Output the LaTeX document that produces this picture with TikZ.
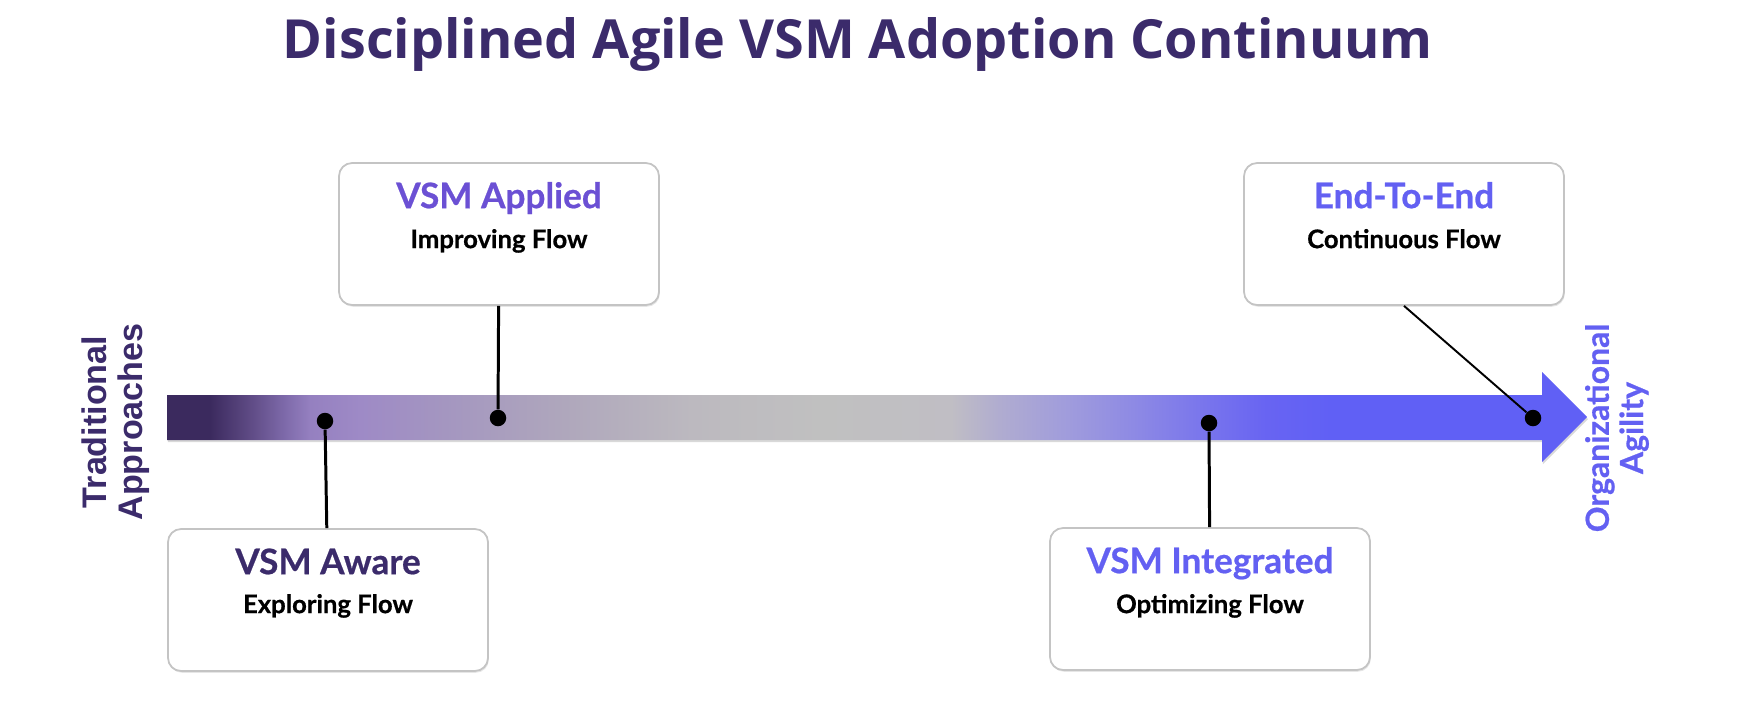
\documentclass[tikz,border=0pt]{standalone}
\usepackage{fontspec}
\setmainfont{Lato}[BoldFeatures={FakeBold=0.6}]
\newfontfamily\headfont{Open Sans}
\newfontfamily\sidefont{Liberation Sans}
\usetikzlibrary{positioning,calc,shadows}

\definecolor{darkplum}{HTML}{3B2B6B}
\definecolor{midplum}{HTML}{6B50D4}
\definecolor{brightplum}{HTML}{6360F2}
\definecolor{boxline}{HTML}{C4C4C4}

% colour stops of the flow arrow
\definecolor{fa}{HTML}{3B2A5E}
\definecolor{fb}{HTML}{5E4A84}
\definecolor{fc}{HTML}{7E6AAA}
\definecolor{fd}{HTML}{9580C0}
\definecolor{fe}{HTML}{9E8AC6}
\definecolor{ff}{HTML}{A496C0}
\definecolor{fg}{HTML}{AFA7BC}
\definecolor{fh}{HTML}{BCB9BF}
\definecolor{fi}{HTML}{C0C0C0}
\definecolor{fj}{HTML}{C0BEC4}
\definecolor{fk}{HTML}{B0ACD0}
\definecolor{fl}{HTML}{A09CDC}
\definecolor{fm}{HTML}{8E8AE4}
\definecolor{fn}{HTML}{7A76EC}
\definecolor{fo}{HTML}{6864F2}
\definecolor{fp}{HTML}{6060F5}

\pgfdeclarehorizontalshading{flowshade}{100bp}{
  color(0bp)=(fa); color(26.5bp)=(fa); color(27.9bp)=(fb);
  color(29.15bp)=(fc); color(30.05bp)=(fd); color(31.8bp)=(fe);
  color(34.8bp)=(ff); color(39bp)=(fg); color(43.5bp)=(fh);
  color(48bp)=(fi); color(52.6bp)=(fj); color(54.3bp)=(fk);
  color(56.7bp)=(fl); color(59bp)=(fm); color(61.4bp)=(fn);
  color(63.7bp)=(fo); color(66bp)=(fp); color(100bp)=(fp)}

\tikzset{
  stagebox/.style={draw=boxline, line width=1pt, fill=white, rounded corners=0.26cm,
    minimum width=6.4cm, minimum height=2.84cm,
    drop shadow={opacity=0.2, shadow xshift=0.5pt, shadow yshift=-1pt}},
  stagename/.style={font=\fontsize{20}{22}\selectfont\bfseries, anchor=base, inner sep=0pt},
  stageflow/.style={font=\fontsize{14.6}{16}\selectfont\bfseries, anchor=base, inner sep=0pt},
  flowdot/.style={circle, fill=black, inner sep=0pt, minimum size=0.33cm},
  stem/.style={line width=1.7pt},
  endlabel/.style={rotate=90, align=center, inner sep=0pt,
    font=\fontsize{18.2}{19.5}\selectfont\bfseries}
}

\begin{document}
\begin{tikzpicture}[x=0.02cm, y=-0.02cm]
  \useasboundingbox (0,0) rectangle (1739,708);

  % Title
  \node[anchor=base, inner sep=0pt, text=darkplum,
        font=\headfont\fontsize{30.7}{34}\selectfont\bfseries] (title) at (858,58)
        {Disciplined Agile VSM Adoption Continuum};

  % Flow arrow
  \path[shading=flowshade, drop shadow={opacity=0.3, shadow xshift=0.5pt, shadow yshift=-1.2pt}]
    (167,395) -- (1542,395) -- (1542,372) -- (1587,417) -- (1542,462)
    -- (1542,440) -- (167,440) -- cycle;

  % Ends of the continuum
  \node[endlabel, text=darkplum, font=\sidefont\fontsize{19.4}{20.6}\selectfont\bfseries]
    (trad) at (116,422) {Traditional\\Approaches};
  \node[endlabel, text=brightplum] (agile) at (1617,428) {Organizational\\Agility};

  % Points on the arrow
  \node[flowdot] (awaredot)  at (325,421)  {};
  \node[flowdot] (applydot)  at (498,418)  {};
  \node[flowdot] (integdot)  at (1209,423) {};
  \node[flowdot] (enddot)    at (1533,418) {};

  % Stage boxes
  \node[stagebox] (aware)  at (328,600)  {};
  \node[stagebox] (apply)  at (499,234)  {};
  \node[stagebox] (integ)  at (1210,599) {};
  \node[stagebox] (endend) at (1404,234) {};

  \node[stagename, text=darkplum]   (awareT) at ($(aware.north)+(0,46)$)  {VSM Aware};
  \node[stageflow]                  (awareS) at ($(aware.north)+(0,85)$)  {Exploring Flow};
  \node[stagename, text=midplum]    (applyT) at ($(apply.north)+(0,46)$)  {VSM Applied};
  \node[stageflow]                  (applyS) at ($(apply.north)+(0,86)$)  {Improving Flow};
  \node[stagename, text=brightplum] (integT) at ($(integ.north)+(0,46)$)  {VSM Integrated};
  \node[stageflow]                  (integS) at ($(integ.north)+(0,86)$)  {Optimizing Flow};
  \node[stagename, text=brightplum] (endT)   at ($(endend.north)+(0,46)$) {End-To-End};
  \node[stageflow]                  (endS)   at ($(endend.north)+(0,86)$) {Continuous Flow};

  % Stems
  \draw[stem] (awaredot) -- (aware);
  \draw[stem] (apply) -- (applydot);
  \draw[stem] (integdot) -- (integ);
  \draw[line width=1.1pt] (endend.south) -- (enddot);
\end{tikzpicture}
\end{document}
